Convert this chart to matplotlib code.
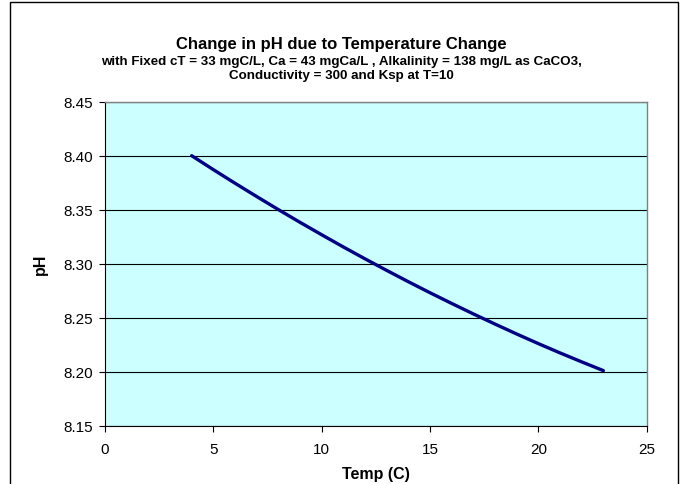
import matplotlib
matplotlib.use("Agg")
import matplotlib.pyplot as plt
from matplotlib.patches import Rectangle

plt.rcParams['font.family'] = ['Liberation Sans', 'DejaVu Sans']

# Temperature (C) and resulting pH
temp_c = [4, 5, 6, 7, 8, 9, 10, 11, 12, 13, 14, 15, 16, 17, 18, 19, 20, 21, 22, 23]
ph_values = [8.4000, 8.3871, 8.3745, 8.3622, 8.3501, 8.3383, 8.3268, 8.3155, 8.3045, 8.2938,
             8.2833, 8.2731, 8.2632, 8.2535, 8.2441, 8.2349, 8.2260, 8.2174, 8.2091, 8.2010]

x_ticks = [0, 5, 10, 15, 20, 25]
y_ticks = [8.15, 8.20, 8.25, 8.30, 8.35, 8.40, 8.45]

W, H = 683, 485
fig = plt.figure(figsize=(W / 100, H / 100), dpi=100)
fig.patch.set_facecolor('white')

ax = fig.add_axes([105 / W, 1 - 426.7 / H, (646.7 - 105) / W, (426.7 - 102.7) / H])
ax.set_facecolor('#CCFFFF')

ax.plot(temp_c, ph_values, color='#000080', lw=2.4, solid_capstyle='round',
        solid_joinstyle='round', zorder=3)

ax.set_xlim(0, 25)
ax.set_ylim(8.15, 8.45)
ax.set_xticks(x_ticks)
ax.set_yticks(y_ticks)
ax.set_xticklabels([str(t) for t in x_ticks])
ax.set_yticklabels([f"{v:.2f}" for v in y_ticks])

ax.yaxis.grid(True, color='black', lw=0.8)
ax.set_axisbelow(True)

for side in ('top', 'right'):
    ax.spines[side].set_color('#808080')
    ax.spines[side].set_linewidth(1.0)
for side in ('left', 'bottom'):
    ax.spines[side].set_color('black')
    ax.spines[side].set_linewidth(0.8)

ax.tick_params(direction='out', length=4, width=0.8, labelsize=11, colors='black')
ax.tick_params(axis='x', pad=8)
ax.tick_params(axis='y', pad=5)

ax.set_xlabel('Temp (C)', fontsize=11.5, fontweight='bold', labelpad=7)
ax.set_ylabel('pH', fontsize=11.5, fontweight='bold', labelpad=11)

fig.text(0.5, 1 - 45 / H, 'Change in pH due to Temperature Change',
         ha='center', va='center', fontsize=12, fontweight='bold')
fig.text(0.5, 1 - 62 / H,
         'with Fixed cT = 33 mgC/L, Ca = 43 mgCa/L , Alkalinity = 138 mg/L as CaCO3,',
         ha='center', va='center', fontsize=9.6, fontweight='bold')
fig.text(0.5, 1 - 75.5 / H, 'Conductivity = 300 and Ksp at T=10',
         ha='center', va='center', fontsize=9.6, fontweight='bold')

# outer chart frame
frame = Rectangle((10 / W, -0.05), (678 - 10) / W, 1.05 - 3 / H,
                  transform=fig.transFigure, fill=False, edgecolor='black',
                  lw=1.0, clip_on=False)
fig.patches.append(frame)

fig.savefig('out.png', dpi=100)
